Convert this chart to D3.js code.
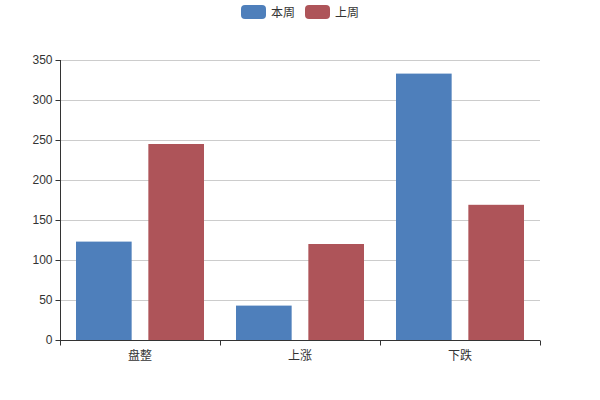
<!DOCTYPE html>
<html><head><meta charset="utf-8">
<script src="https://cdn.jsdelivr.net/npm/d3@7/dist/d3.min.js"></script>
<style>body{margin:0;background:#fff}svg{display:block;font-family:"Noto Sans CJK SC","Microsoft YaHei",sans-serif}</style>
</head><body><svg id="c" width="600" height="400"></svg>
<script>
const categories = ["盘整", "上涨", "下跌"];
const seriesNames = ["本周", "上周"];
const thisWeek = [123, 43, 333];
const lastWeek = [245, 120, 169];
const yTicks = [0, 50, 100, 150, 200, 250, 300, 350];
const colors = ["#4e7fbb", "#ae5459"];

const svg = d3.select("#c");
const m = {l: 60, r: 60, t: 60, b: 60};
const W = 600, H = 400;
const x = d3.scaleBand().domain(categories).range([m.l, W - m.r]).paddingInner(0).paddingOuter(0);
const y = d3.scaleLinear().domain([0, 350]).range([H - m.b, m.t]);

// grid
svg.append("g").selectAll("line").data(yTicks.filter(d => d > 0)).join("line")
  .attr("x1", m.l).attr("x2", W - m.r)
  .attr("y1", d => Math.round(y(d)) + 0.5).attr("y2", d => Math.round(y(d)) + 0.5)
  .attr("stroke", "#ccc").attr("stroke-width", 1);

// bars
const bw = x.bandwidth();
const barW = bw * 0.8 / 2.3, gap = barW * 0.3;
const data = [thisWeek, lastWeek];
data.forEach((vals, si) => {
  svg.append("g").selectAll("rect").data(vals).join("rect")
    .attr("x", (d, i) => x(categories[i]) + bw * 0.1 + si * (barW + gap))
    .attr("width", barW)
    .attr("y", d => y(d))
    .attr("height", d => y(0) - y(d))
    .attr("fill", colors[si]);
});

// y axis
const ya = svg.append("g").attr("transform", `translate(${m.l + 0.5},0)`)
  .call(d3.axisLeft(y).tickValues(yTicks).tickSize(5).tickPadding(3));
ya.select(".domain").attr("stroke", "#333").attr("d", `M-5,${m.t}.5H0V${H - m.b}.5`);
ya.selectAll(".domain").attr("d", `M0,${y(350)}V${y(0)}`);
ya.selectAll(".tick line").attr("stroke", "#333");
ya.selectAll(".tick text").attr("fill", "#333").style("font-size", "12px");
ya.selectAll(".tick").attr("transform", d => `translate(0,${Math.round(y(d)) + 0.5})`);

// x axis
const xa = svg.append("g").attr("transform", `translate(0,${H - m.b + 0.5})`);
xa.append("line").attr("x1", m.l).attr("x2", W - m.r).attr("stroke", "#333");
const bounds = categories.map(c => x(c)).concat([W - m.r]);
xa.selectAll("line.t").data(bounds).join("line").attr("class", "t")
  .attr("x1", d => Math.round(d) + 0.5).attr("x2", d => Math.round(d) + 0.5)
  .attr("y1", 0).attr("y2", 5).attr("stroke", "#333");
xa.selectAll("text").data(categories).join("text")
  .attr("x", d => x(d) + bw / 2).attr("y", 19)
  .attr("text-anchor", "middle").attr("fill", "#333").style("font-size", "12px").text(d => d);

// legend
const lg = svg.append("g");
const itemX = [241, 305];
seriesNames.forEach((n, i) => {
  lg.append("rect").attr("x", itemX[i]).attr("y", 5).attr("width", 25).attr("height", 14)
    .attr("rx", 4).attr("fill", colors[i]);
  lg.append("text").attr("x", itemX[i] + 30).attr("y", 16.5).attr("fill", "#333")
    .style("font-size", "12px").text(n);
});
</script></body></html>
